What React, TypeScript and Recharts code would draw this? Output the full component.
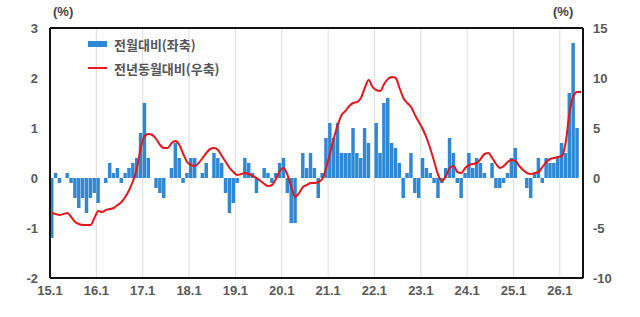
import {
  ComposedChart, Bar, Line, XAxis, YAxis, CartesianGrid, ReferenceLine
} from 'recharts'

// x축 눈금 (매년 1월)
const yearTicks = ['15.1', '16.1', '17.1', '18.1', '19.1', '20.1', '21.1', '22.1', '23.1', '24.1', '25.1', '26.1']

// 전월대비 (%), 2015.1 ~ 2026.6
const momChange: (number | null)[] = [
  -1.2, 0.1, -0.1, 0, 0.1, -0.1, -0.4, -0.6, -0.4, -0.7, -0.4, -0.3,
  -0.5, 0, -0.1, 0.3, 0.1, 0.2, -0.1, 0.1, 0.2, 0.3, 0.4, 0.9,
  1.5, 0.4, 0, -0.2, -0.3, -0.4, 0, 0.2, 0.7, 0.4, -0.1, 0.1,
  0.4, 0.4, 0, 0.1, 0.3, 0, 0.5, 0.4, 0.3, -0.3, -0.7, -0.5,
  -0.1, 0, 0.4, 0.3, 0.1, -0.3, 0, 0.2, 0.1, -0.1, 0.1, 0.3,
  0.4, -0.3, -0.9, -0.9, 0, 0.5, 0.2, 0.5, 0.2, -0.4, 0.1, 0.8,
  1.1, 0.8, 1.1, 0.5, 0.5, 0.5, 1.0, 0.5, 0.4, 1.0, 0.7, 0,
  1.1, 0.5, 1.5, 1.6, 0.7, 0.6, 0.3, -0.4, 0.1, 0.5, -0.3, -0.4,
  0.4, 0.2, 0.1, -0.1, -0.4, -0.1, 0.2, 0.8, 0.5, -0.1, -0.4, 0.1,
  0.5, 0.2, 0.4, 0.3, 0.1, 0, 0.3, -0.2, -0.2, -0.1, 0.1, 0.4,
  0.6, 0, 0, -0.2, -0.4, 0.1, 0.4, -0.1, 0.4, 0.3, 0.3, 0.4,
  0.7, 0.5, 1.7, 2.7, 1.0, null,
]

// 전년동월대비 (%)
const yoyChange: number[] = [
  -3.5, -3.6, -3.7, -3.6, -3.5, -3.9, -4.4, -4.6, -4.7, -4.7, -4.7, -4.0,
  -3.3, -3.4, -3.2, -3.1, -3.0, -2.7, -2.4, -1.9, -1.2, -0.3, 1.0, 3.0,
  4.2, 4.4, 4.3, 3.9, 3.3, 3.0, 3.0, 3.5, 3.7, 3.3, 2.4, 1.6,
  1.3, 1.2, 1.5, 2.0, 2.5, 2.9, 3.0, 2.8, 2.2, 1.6, 1.0, 0.6,
  0.3, 0.4, 0.5, 0.4, 0.2, 0.0, -0.3, -0.6, -0.8, -0.7, -0.1, 0.7,
  1.0, 0.3, -0.9, -1.9, -1.5, -0.9, -0.7, -0.5, -0.5, -0.4, -0.1, 1.0,
  2.5, 4.0, 5.3, 6.3, 6.7, 7.2, 7.5, 7.6, 8.0, 9.0, 9.8, 9.1,
  8.8, 8.7, 9.4, 9.9, 10.1, 10.0, 9.0, 8.0, 7.5, 7.1, 6.3, 5.6,
  4.9, 4.0, 2.9, 1.6, 0.3, -0.3, 0.2, 1.0, 1.2, 0.6, 0.5, 1.0,
  1.3, 1.4, 1.5, 1.9, 2.4, 2.5, 2.0, 1.4, 1.0, 1.2, 1.6, 1.8,
  1.7, 1.2, 0.8, 0.5, 0.4, 0.5, 0.6, 1.1, 1.6, 1.9, 2.0, 2.1,
  2.2, 3.5, 6.5, 8.2, 8.6, 8.6,
]

const leftTicks = [-2, -1, 0, 1, 2, 3]
const rightTicks = [-10, -5, 0, 5, 10, 15]

const BAR_COLOR = '#2f88d3'
const LINE_COLOR = '#e5161c'
const TEXT_COLOR = '#595959'

const data = momChange.map((v, i) => ({ t: i + 0.5, mom: v, yoy: yoyChange[i] }))
const xTickPos = yearTicks.map((_, i) => i * 12)

const tickStyle = { fill: TEXT_COLOR, fontSize: 13, fontWeight: 700, fontFamily: 'Liberation Sans, Arial, sans-serif' }

function LegendBox() {
  const txt = { fontSize: 13, fontWeight: 700, color: '#555', fontFamily: '"Noto Sans CJK KR", sans-serif' }
  return (
    <div style={{ position: 'absolute', left: 88, top: 35, display: 'flex', flexDirection: 'column', gap: 6 }}>
      <div style={{ display: 'flex', alignItems: 'center', height: 18 }}>
        <span style={{ width: 19, height: 6, background: BAR_COLOR, marginRight: 7 }} />
        <span style={txt}>전월대비(좌축)</span>
      </div>
      <div style={{ display: 'flex', alignItems: 'center', height: 18 }}>
        <span style={{ width: 19, height: 2, background: LINE_COLOR, marginRight: 7 }} />
        <span style={txt}>전년동월대비(우축)</span>
      </div>
    </div>
  )
}

export default function App() {
  const unit = { position: 'absolute' as const, top: 4, fontSize: 13, fontWeight: 700, color: '#444', fontFamily: 'Liberation Sans, Arial, sans-serif' }
  return (
    <div style={{ position: 'absolute', left: 0, top: 0, width: 640, height: 317, background: '#fff' }}>
      <ComposedChart width={640} height={317} data={data} margin={{ top: 28, right: 0, bottom: 0, left: 0 }}>
        <CartesianGrid horizontal={false} stroke="#dcdcdc" strokeWidth={1} />
        <XAxis
          dataKey="t" type="number" domain={[0, 138]} ticks={xTickPos}
          tickFormatter={(v: number) => yearTicks[v / 12]}
          tick={tickStyle} tickLine={false} tickSize={0} tickMargin={8}
          axisLine={{ stroke: '#111', strokeWidth: 2 }} height={39} interval={0}
        />
        <YAxis
          yAxisId="left" domain={[-2, 3]} ticks={leftTicks} width={50}
          tick={tickStyle} tickLine={false} tickSize={0} tickMargin={12}
          axisLine={{ stroke: '#111', strokeWidth: 2 }}
        />
        <YAxis
          yAxisId="right" orientation="right" domain={[-10, 15]} ticks={rightTicks} width={57}
          tick={{ ...tickStyle, textAnchor: 'start' }} tickLine={false} tickSize={0} tickMargin={10}
          axisLine={{ stroke: '#111', strokeWidth: 2 }}
        />
        <ReferenceLine yAxisId="left" y={3} stroke="#111" strokeWidth={2} />
        <Bar yAxisId="left" dataKey="mom" fill={BAR_COLOR} barSize={4} isAnimationActive={false} />
        <Line
          yAxisId="right" dataKey="yoy" type="monotone" stroke={LINE_COLOR} strokeWidth={2}
          dot={false} isAnimationActive={false}
        />
      </ComposedChart>
      <LegendBox />
      <div style={{ ...unit, left: 53 }}>(%)</div>
      <div style={{ ...unit, left: 553 }}>(%)</div>
    </div>
  )
}
